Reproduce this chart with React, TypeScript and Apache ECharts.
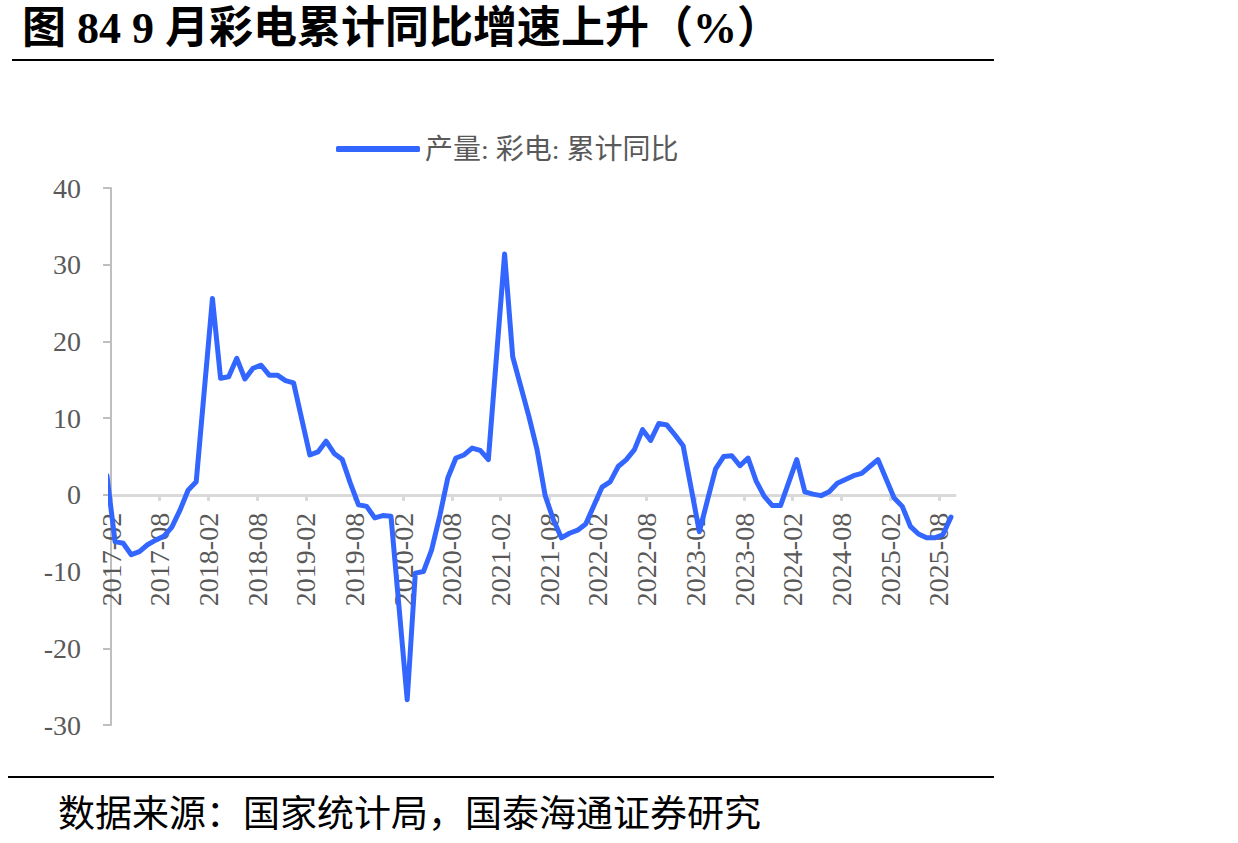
import React, { useEffect, useRef } from "react";
import * as echarts from "echarts";

// Cumulative YoY growth (%) of colour TV output, monthly, Jan..Dec of each year (Jan not published => null)
const years = [2017, 2018, 2019, 2020, 2021, 2022, 2023, 2024, 2025];
const v2017 = [2.5, -6.1, -6.3, -7.8, -7.4, -6.5, -5.9, -5.4, -4.2, -2.0, 0.6, 1.7];
const v2018 = [null, 25.6, 15.2, 15.4, 17.8, 15.1, 16.5, 16.9, 15.6, 15.6, 14.9, 14.6];
const v2019 = [null, 5.2, 5.6, 7.0, 5.4, 4.6, 1.5, -1.3, -1.5, -3.0, -2.7, -2.8];
const v2020 = [null, -26.7, -10.2, -10.0, -7.2, -2.8, 2.2, 4.8, 5.2, 6.1, 5.8, 4.6];
const v2021 = [null, 31.4, 18.0, 14.1, 10.2, 5.9, -0.1, -3.2, -5.6, -5.0, -4.6, -3.8];
const v2022 = [null, 1.0, 1.7, 3.7, 4.6, 5.9, 8.5, 7.1, 9.3, 9.1, 7.8, 6.4];
const v2023 = [null, -4.8, -0.7, 3.4, 5.0, 5.1, 3.8, 4.8, 1.8, -0.2, -1.4, -1.4];
const v2024 = [null, 4.6, 0.4, 0.1, -0.1, 0.4, 1.5, 2.0, 2.5, 2.8, 3.7, 4.6];
const v2025 = [null, -0.4, -1.5, -4.1, -5.1, -5.6, -5.6, -5.2, -2.9];

const tickLabels = [
  "2017-02", "2017-08", "2018-02", "2018-08", "2019-02", "2019-08",
  "2020-02", "2020-08", "2021-02", "2021-08", "2022-02", "2022-08",
  "2023-02", "2023-08", "2024-02", "2024-08", "2025-02", "2025-08",
];

const seriesName = "产量: 彩电: 累计同比";
const titleText = "图 84 9 月彩电累计同比增速上升（%）";
const sourceText = "数据来源：国家统计局，国泰海通证券研究";

const yearValues = [v2017, v2018, v2019, v2020, v2021, v2022, v2023, v2024, v2025];

const Y_MIN = -30;
const Y_MAX = 40;

export default function App() {
  const ref = useRef<HTMLDivElement>(null);

  useEffect(() => {
    if (!ref.current) return;
    const chart = echarts.init(ref.current, undefined, { renderer: "svg" });

    // x value = months since 2017-02-01, each point placed mid-month
    const data: [number, number | null][] = [];
    yearValues.forEach((vals, yi) => {
      vals.forEach((v, m) => {
        const monthsFromStart = (years[yi] - 2017) * 12 + m - 1;
        data.push([monthsFromStart + 0.5, v]);
      });
    });

    const tickPos = tickLabels.map((_, i) => i * 6);
    const serif = "'Liberation Serif', 'Noto Sans CJK SC', serif";

    const gridTop = 188;
    const gridBottom = 118;
    const plotH = 843 - gridTop - gridBottom;
    // move the x axis (line, ticks, labels) up to the y = 0 level
    const zeroOffset = -(plotH * (0 - Y_MIN)) / (Y_MAX - Y_MIN);

    chart.setOption({
      animation: false,
      backgroundColor: "#ffffff",
      grid: { left: 111, right: 283, top: gridTop, bottom: gridBottom, containLabel: false },
      legend: {
        show: true,
        left: 331,
        top: 130,
        icon: "roundRect",
        itemWidth: 84,
        itemHeight: 6,
        textStyle: { color: "#595959", fontSize: 28, fontFamily: serif },
        data: [seriesName],
      },
      xAxis: {
        type: "value",
        min: 0,
        max: 104,
        interval: 6,
        position: "bottom",
        offset: zeroOffset,
        axisLine: { show: true, onZero: false, lineStyle: { color: "#d9d9d9", width: 3 } },
        axisTick: {
          show: true,
          length: 6,
          customValues: tickPos,
          lineStyle: { color: "#d9d9d9", width: 3 },
        },
        axisLabel: {
          customValues: tickPos,
          rotate: 90,
          margin: 18,
          color: "#595959",
          fontSize: 28,
          fontFamily: serif,
          formatter: (v: number) => tickLabels[Math.round(v / 6)] ?? "",
        },
        splitLine: { show: false },
      },
      yAxis: {
        type: "value",
        min: Y_MIN,
        max: Y_MAX,
        interval: 10,
        axisLine: { show: true, onZero: false, lineStyle: { color: "#bfbfbf", width: 2 } },
        axisTick: { show: true, length: 8, lineStyle: { color: "#bfbfbf", width: 2 } },
        axisLabel: { margin: 30, color: "#595959", fontSize: 28, fontFamily: serif },
        splitLine: { show: false },
      },
      series: [
        {
          name: seriesName,
          type: "line",
          data,
          connectNulls: true,
          showSymbol: false,
          symbol: "none",
          clip: true,
          color: "#3366ff",
          lineStyle: { color: "#3366ff", width: 5, join: "round", cap: "round" },
        },
      ],
      graphic: [
        {
          type: "text",
          left: 22,
          top: 6,
          style: {
            text: titleText,
            fontSize: 44,
            fontWeight: "bold",
            fontFamily: serif,
            fill: "#000000",
          },
        },
        {
          type: "line",
          shape: { x1: 12, y1: 60, x2: 994, y2: 60 },
          style: { stroke: "#000000", lineWidth: 2 },
        },
        {
          type: "line",
          shape: { x1: 8, y1: 777, x2: 994, y2: 777 },
          style: { stroke: "#000000", lineWidth: 2 },
        },
        {
          type: "text",
          left: 58,
          top: 792,
          style: {
            text: sourceText,
            fontSize: 37,
            fontFamily: "'Noto Sans CJK SC', sans-serif",
            fill: "#000000",
          },
        },
      ],
    });

    return () => chart.dispose();
  }, []);

  return (
    <div
      ref={ref}
      style={{ position: "absolute", left: 0, top: 0, width: 1238, height: 843, background: "#fff" }}
    />
  );
}
